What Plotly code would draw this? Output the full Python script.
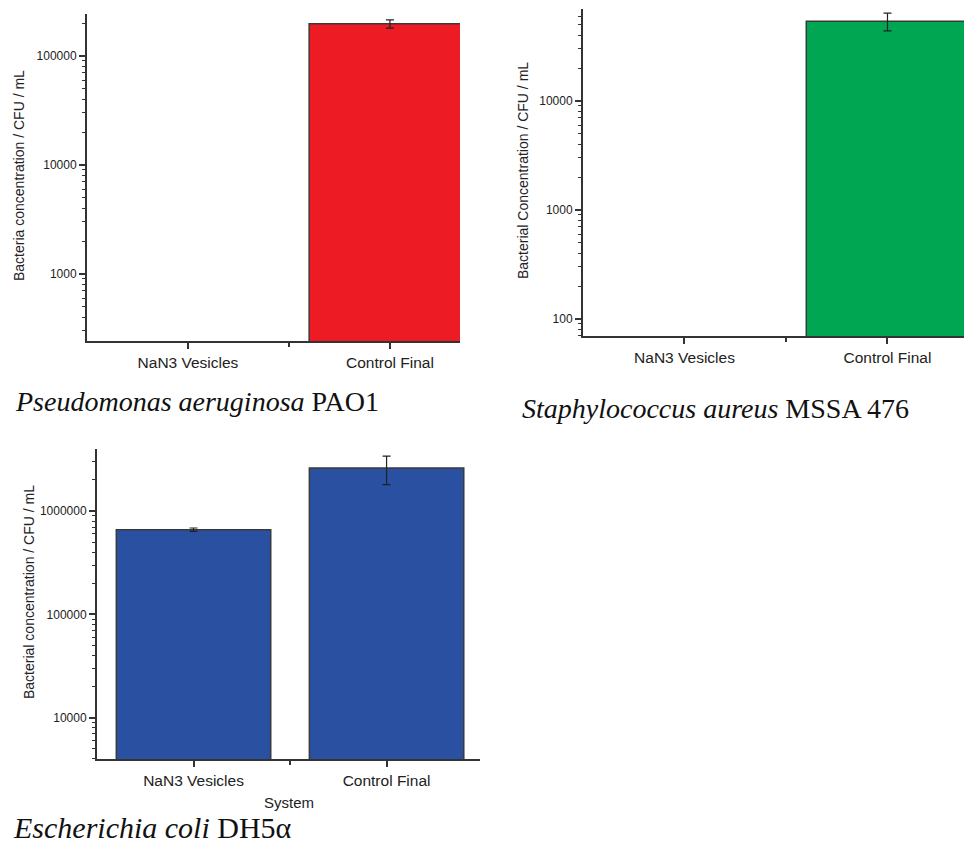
import plotly.graph_objects as go

# ---------------- data ----------------
categories = ["NaN3 Vesicles", "Control Final"]

pao1_values = [0, 197000]
pao1_errors = [0, 17000]

mssa_values = [0, 54000]
mssa_errors = [0, 10000]

ecoli_values = [660000, 2600000]
ecoli_errors = [25000, 800000]

titles = [
    "<i>Pseudomonas aeruginosa</i> PAO1",
    "<i>Staphylococcus aureus</i> MSSA 476",
    "<i>Escherichia coli</i> DH5\u03b1",
]
ytitles = [
    "Bacteria concentration / CFU / mL",
    "Bacterial Concentration / CFU / mL",
    "Bacterial concentration / CFU / mL",
]
xtitle = "System"

colors = ["#ED1C24", "#00A651", "#2A50A2"]

W, H = 964, 844
AX = "#333333"
SANS = "Liberation Sans, Arial, sans-serif"
SERIF = "Liberation Serif, Times New Roman, serif"

# pixel boxes for plot areas: (left, right, top, bottom)
boxes = [(87, 460, 14, 341), (583, 964, 9, 336), (97, 480, 449, 759)]
xranges = [[-0.5, 1.347], [-0.5, 1.377], [-0.5, 1.484]]
yranges = [[2.385, 5.385], [1.844, 4.844], [3.60, 6.60]]

series = [(pao1_values, pao1_errors), (mssa_values, mssa_errors), (ecoli_values, ecoli_errors)]

fig = go.Figure()
x_pos = list(range(len(categories)))

for i, ((vals, errs), col) in enumerate(zip(series, colors)):
    sfx = "" if i == 0 else str(i + 1)
    fig.add_trace(go.Bar(
        x=x_pos, y=vals, width=0.8,
        marker=dict(color=col, line=dict(color="#3a3a3a", width=1.5)),
        error_y=dict(type="data", array=errs, visible=True, color="#222222",
                     thickness=1.2, width=4),
        xaxis="x" + sfx, yaxis="y" + sfx, showlegend=False,
    ))

layout = dict(
    width=W, height=H, margin=dict(l=0, r=0, t=0, b=0),
    paper_bgcolor="white", plot_bgcolor="white", bargap=0.2,
    showlegend=False,
)

annotations = []
for i, (box, xr, yr) in enumerate(zip(boxes, xranges, yranges)):
    l, r, t, b = box
    sfx = "" if i == 0 else str(i + 1)
    layout["xaxis" + sfx] = dict(
        domain=[l / W, r / W], range=xr, anchor="y" + sfx,
        tickmode="array", tickvals=x_pos, ticktext=categories,
        ticks="outside", ticklen=6, tickwidth=1.5, tickcolor=AX,
        minor=dict(tickvals=[0.5], ticks="outside", ticklen=4, tickwidth=1.5, tickcolor=AX),
        showline=True, linecolor=AX, linewidth=2, showgrid=False, zeroline=False,
        tickfont=dict(family=SANS, size=15.5, color="#222222"),
        fixedrange=True,
    )
    layout["yaxis" + sfx] = dict(
        domain=[1 - b / H, 1 - t / H], type="log", range=yr, anchor="x" + sfx,
        dtick=1, tickformat="d",
        ticks="outside", ticklen=6, tickwidth=1.5, tickcolor=AX,
        minor=dict(ticks="outside", ticklen=3, tickwidth=1, tickcolor=AX, dtick="D1", showgrid=False),
        showline=True, linecolor=AX, linewidth=2, showgrid=False, zeroline=False,
        tickfont=dict(family=SANS, size=12, color="#222222"),
        fixedrange=True,
    )

# y-axis titles (rotated)
ytitle_pos = [(19, 176), (523, 171), (29, 592)]
for txt, (px, py) in zip(ytitles, ytitle_pos):
    annotations.append(dict(
        text=txt, x=px / W, y=1 - py / H, xref="paper", yref="paper",
        showarrow=False, textangle=-90, xanchor="center", yanchor="middle",
        font=dict(family=SANS, size=14, color="#222222"),
    ))

# x-axis title on the E. coli panel
annotations.append(dict(
    text=xtitle, x=289 / W, y=1 - 802 / H, xref="paper", yref="paper",
    showarrow=False, xanchor="center", yanchor="middle",
    font=dict(family=SANS, size=15, color="#222222"),
))

# organism captions
title_pos = [(13, 401), (520, 409), (11, 827)]
title_sizes = [28, 28, 30]
for txt, (px, py), fs in zip(titles, title_pos, title_sizes):
    annotations.append(dict(
        text=txt, x=px / W, y=1 - py / H, xref="paper", yref="paper",
        showarrow=False, xanchor="left", yanchor="middle",
        font=dict(family=SERIF, size=fs, color="#111111"),
    ))

layout["annotations"] = annotations
fig.update_layout(**layout)
fig.write_html(
    "out.html",
    config={"displayModeBar": False},
    post_script="document.body.style.margin='0';document.body.style.overflow='hidden';",
)
